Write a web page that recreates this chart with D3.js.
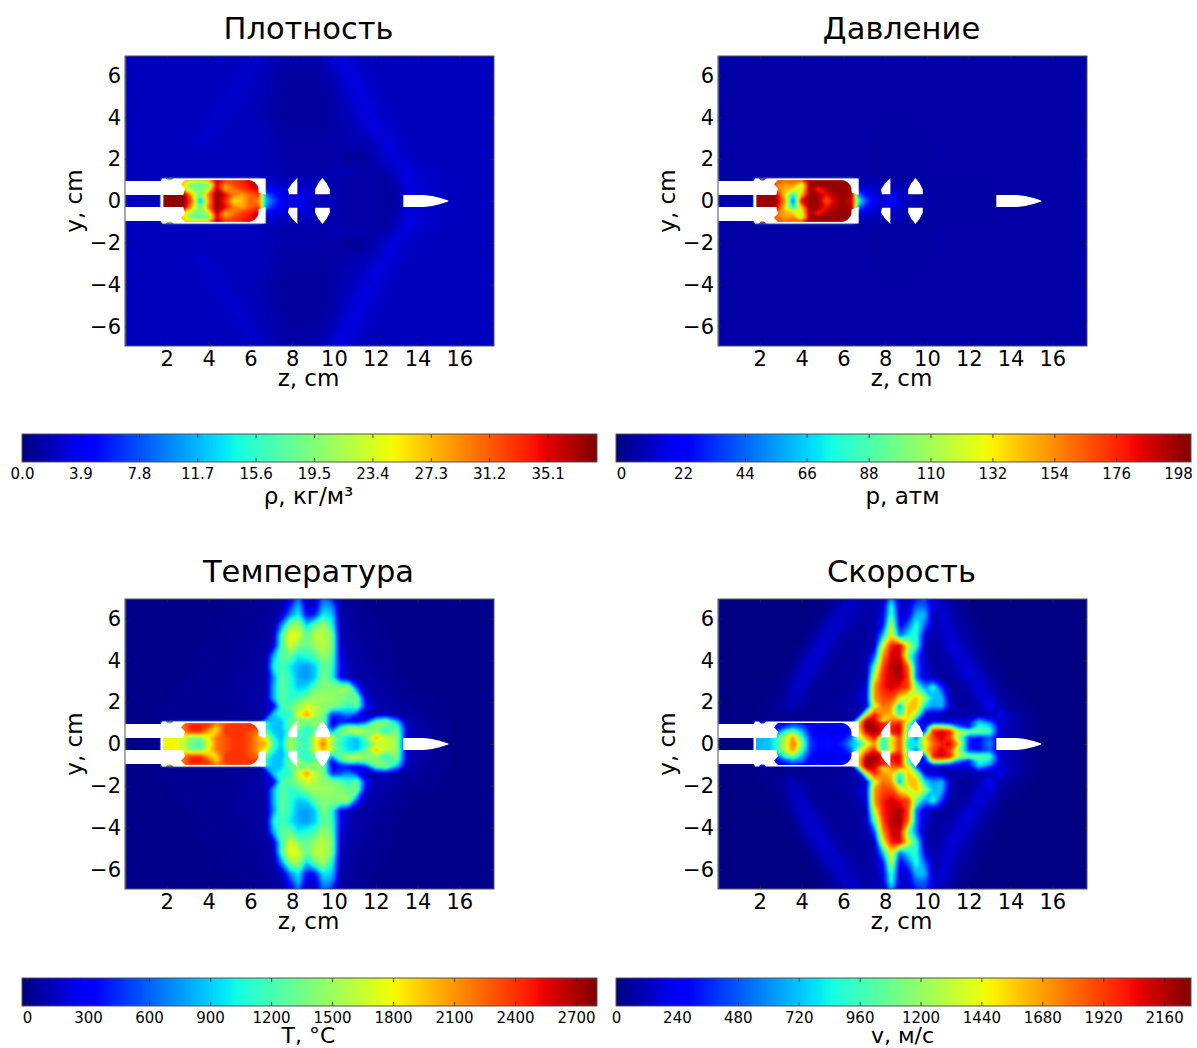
<!DOCTYPE html>
<html>
<head>
<meta charset="utf-8">
<script src="https://cdn.jsdelivr.net/npm/d3@7"></script>
<style>
  body { margin: 0; background: #fff; }
  text { font-family: "DejaVu Sans", sans-serif; fill: #000; }
  .tick line { stroke: #222; stroke-width: 0.8; }
  .spine { fill: none; stroke: #555; stroke-width: 1; }
</style>
</head>
<body>
<svg id="chart" width="1197" height="1048"></svg>
<script>
// Sample positions of the field tables, cm. Rows hold y >= 0, the field is mirrored about y = 0.
const zGrid = [0, 1, 1.7, 1.85, 2.4, 2.8, 3.2, 3.6, 4, 4.4, 4.8, 5.2, 5.6, 6, 6.4, 6.75, 7.1, 7.5, 7.9, 8.3,
  8.7, 9.1, 9.5, 9.9, 10.3, 10.7, 11.1, 11.5, 12, 12.5, 13, 13.5, 14, 15, 16, 18];
const yGrid = [0, 0.3, 0.6, 0.8, 1, 1.08, 1.4, 1.8, 2.2, 2.7, 3.2, 3.7, 4.2, 4.7, 5.2, 5.7, 6.2, 6.6, 7];

// density, kg/m3
const densityRows = [
  [2,2,2,38,38,38, 31,10,28,38,33,25,27,31,29,12, 8,4,3,4,3,2,2,1.8,1.5,1.2, 1.2,1.2,1.2,1,1.2,3,3,2.2,2,2],
  [2,2,2,38,38,38, 27,18,30,38,35,30,28,31,33,9, 6,3.5,3,3.5,3,2,2,1.8,1.5,1.2, 1.2,1.2,1.2,1,1.2,3,3,2.2,2,2],
  [2,2,2,20,30,24, 20,19,22,36,26,30,33,34,36,3, 4,3,2.6,3,2.6,2,2,1.8,1.4,1.2, 1.2,1.2,1.2,1.1,1.4,3.2,2.8,2.2,2,2],
  [2,2,2,20,30,26, 18,17,18,35,30,32,33,35,36,3, 2.6,2.2,2.2,2.4,2.4,1.8,1.8,1.6,1.4,1.2, 1.2,1.2,1.2,1.1,1.6,3.4,2.8,2.2,2,2],
  [2,2,2,20,30,27, 26,27,28,37,33,33,34,36,37,2.6, 2.2,2,2,2,2,1.6,1.6,1.6,1.4,1.2, 1.2,1.2,1.2,1.1,1.8,3.4,2.8,2.2,2,2],
  [2,2,2,2,2,2, 2,2,2,2,2,2,2,2,2,2, 2,1.8,1.8,1.8,1.8,1.6,1.6,1.6,1.4,1.2, 1.2,1.2,1.2,1.2,2,3.4,2.8,2.2,2,2],
  [2,2,2,2,2,2, 2,2,2,2,2,2,2,2,2,1.9, 1.6,1.5,1.4,1.4,1.4,1.4,1.4,1.7,2,2, 1.6,1.4,1.4,1.5,2.4,3.2,2.6,2.1,2,2],
  [2,2,2,2,2,2, 2,2,2,2,2,2,2,2,2,1.9, 1.7,1.5,1.4,1.4,1.4,1.4,1.3,1.4,1.2,1, 0.9,1,1.6,2,3.2,2.8,2.3,2,2,2],
  [2,2,2,2,2,2, 2.1,2.1,2,2,2,2,2,2,2,1.9, 1.7,1.4,1.3,1.3,1.3,1.3,1.3,1.3,1.2,1, 0.9,1,1.8,3,2.8,2.4,2.1,2,2,2],
  [2,2,2,2,2,2, 2.3,2.4,2.3,2.1,2,2,2,2,2,1.9, 1.6,1.3,1.2,1.2,1.2,1.2,1.2,1.3,1.5,1.5, 1.5,1.6,2,3.2,2.8,2.3,2,2,2,2],
  [2,2,2,2,2,2, 2.1,2.3,2.4,2.3,2.1,2,2,2,2,1.8, 1.5,1.2,1.1,1.1,1.1,1.1,1.1,1.2,1.6,1.7, 1.9,2.2,3.2,2.8,2.3,2,2,2,2,2],
  [2,2,2,2,2,2, 2,2.1,2.4,2.4,2.3,2.1,2,2,1.9,1.7, 1.4,1.1,1,1,1,1,1,1.1,1.6,1.8, 2.1,2.8,3.2,2.6,2.2,2,2,2,2,2],
  [2,2,2,2,2,2, 2,2,2.2,2.4,2.4,2.2,2,1.9,1.8,1.6, 1.3,1,1,1,1,1,1,1.1,1.7,2, 2.6,3.3,2.8,2.3,2,2,2,2,2,2],
  [2,2,2,2,2,2, 2,2,2,2.2,2.4,2.4,2.2,2,1.8,1.6, 1.3,1,1,1,1,1,1,1.2,1.8,2.2, 3,3.2,2.6,2.2,2,2,2,2,2,2],
  [2,2,2,2,2,2, 2,2,2,2.1,2.3,2.5,2.4,2.1,1.9,1.7, 1.4,1.1,1,1,1,1,1.1,1.4,2,2.6, 3.3,2.9,2.3,2,2,2,2,2,2,2],
  [2,2,2,2,2,2, 2,2,2,2,2.1,2.3,2.5,2.3,2,1.7, 1.4,1.2,1,1,1,1,1.2,1.6,2.3,3, 3.2,2.6,2.2,2,2,2,2,2,2,2],
  [2,2,2,2,2,2, 2,2,2,2,2,2.1,2.3,2.5,2.2,1.8, 1.5,1.2,1.1,1.1,1.1,1.2,1.4,1.9,2.8,3.3, 2.8,2.3,2,2,2,2,2,2,2,2],
  [2,2,2,2,2,2, 2,2,2,2,2,2,2.2,2.4,2.3,2, 1.6,1.4,1.3,1.3,1.3,1.4,1.7,2.4,3.2,3, 2.4,2.1,2,2,2,2,2,2,2,2],
  [2,2,2,2,2,2, 2,2,2,2,2,2,2,2.2,2.4,2.2, 1.8,1.6,1.5,1.5,1.6,1.8,2.2,3,3.2,2.7, 2.3,2,2,2,2,2,2,2,2,2],
];

// pressure, atm
const pressureRows = [
  [5,5,5,198,198,198, 150,35,185,198,198,160,190,198,185,80, 40,18,12,24,14,8,8,6,5,4.5, 4.5,4.5,4.5,4.5,4.5,5,5,5,5,5],
  [5,5,5,198,198,190, 135,70,140,198,195,180,195,198,195,45, 25,14,12,18,12,8,7,6,5,4.5, 4.5,4.5,4.5,4.5,4.5,5,5,5,5,5],
  [5,5,5,198,190,160, 145,140,120,198,175,198,198,198,198,10, 14,10,10,12,9,7,6,5,4.5,4.5, 4.5,4.5,4.5,4.5,4.5,5,5,5,5,5],
  [5,5,5,198,190,160, 150,155,115,198,198,198,198,198,198,8, 8,8,8,8,7,6,5,4.5,4.5,4.5, 4.5,4.5,4.5,4.5,4.5,5,5,5,5,5],
  [5,5,5,198,190,170, 165,165,170,198,198,198,198,198,198,7, 7,7,7,7,6,5,4.5,4.5,4.5,4.5, 4.5,4.5,4.5,4.5,4.6,5,5,5,5,5],
  [5,5,5,5,5,5, 5,5,5,5,5,5,5,5,5,5, 5,5,5,5,4.6,4.4,4.4,4.4,4.4,4.5, 4.5,4.5,4.6,4.7,4.8,5,5,5,5,5],
  [5,5,5,5,5,5, 5,5,5,5,5,5,5,5,5,5, 4.7,4.4,4.2,4.2,4.2,4.2,4.3,4.4,4.6,4.7, 4.8,4.9,5,5,5,5,5,5,5,5],
  [5,5,5,5,5,5, 5,5,5,5,5,5,5,5,5,5, 4.7,4.4,4.1,4.1,4.1,4.1,4.3,4.4,4.6,4.8, 5,5,5,5,5,5,5,5,5,5],
  [5,5,5,5,5,5, 5,5,5,5,5,5,5,5,5,5, 4.7,4.4,4.1,4.1,4.1,4.1,4.3,4.4,4.6,4.8, 5,5,5,5,5,5,5,5,5,5],
  [5,5,5,5,5,5, 5,5,5,5,5,5,5,5,5,5, 4.8,4.4,4.2,4.2,4.2,4.2,4.3,4.5,4.7,4.9, 5,5,5,5,5,5,5,5,5,5],
  [5,5,5,5,5,5, 5,5,5,5,5,5,5,5,5,5, 4.8,4.5,4.3,4.3,4.3,4.3,4.4,4.6,4.8,5, 5,5,5,5,5,5,5,5,5,5],
  [5,5,5,5,5,5, 5,5,5,5,5,5,5,5,5,5, 4.9,4.6,4.4,4.4,4.4,4.4,4.6,4.7,4.9,5, 5,5,5,5,5,5,5,5,5,5],
  [5,5,5,5,5,5, 5,5,5,5,5,5,5,5,5,5, 5,4.7,4.6,4.6,4.6,4.6,4.7,4.8,5,5, 5,5,5,5,5,5,5,5,5,5],
  [5,5,5,5,5,5, 5,5,5,5,5,5,5,5,5,5, 5,4.9,4.8,4.8,4.8,4.8,4.9,5,5,5, 5,5,5,5,5,5,5,5,5,5],
  [5,5,5,5,5,5, 5,5,5,5,5,5,5,5,5,5, 5,5,5,5,5,5,5,5,5,5, 5,5,5,5,5,5,5,5,5,5],
  [5,5,5,5,5,5, 5,5,5,5,5,5,5,5,5,5, 5,5,5,5,5,5,5,5,5,5, 5,5,5,5,5,5,5,5,5,5],
  [5,5,5,5,5,5, 5,5,5,5,5,5,5,5,5,5, 5,5,5,5,5,5,5,5,5,5, 5,5,5,5,5,5,5,5,5,5],
  [5,5,5,5,5,5, 5,5,5,5,5,5,5,5,5,5, 5,5,5,5,5,5,5,5,5,5, 5,5,5,5,5,5,5,5,5,5],
  [5,5,5,5,5,5, 5,5,5,5,5,5,5,5,5,5, 5,5,5,5,5,5,5,5,5,5, 5,5,5,5,5,5,5,5,5,5],
];

// temperature, hundreds of deg C
const temperatureRows = [
  [0,0,0,18,18,16, 13,11,17,22,23,24,24,23,21,20, 12,9,16,13,11,17,22,15,11,9.5, 8.5,11,16,17,15,1,1,0,0,0],
  [0,0,0,18,18,17, 14,14,18,22,23,24,24,23,20,17, 11,8,15,12,11,17,20,16,12,9.5, 9,12.5,20,16,15,1.5,1,0.2,0,0],
  [0,0,0,18,22,22, 24,24,20,19,24,24,24,23,22,12, 9,8.5,12,12,11,13,14,8,14,15, 17,15,14,11,14,1.5,0.8,0.2,0,0],
  [0,0,0,18,22,22, 25,25,23,19,24,24,24,24,24,10, 8.5,9,13,15,11,13,13,3,10,14, 13,13,15,12,13,1.5,0.8,0.2,0,0],
  [0,0,0,18,22,22, 24,24,24,22,23,24,24,24,24,11, 9,8.5,13,14,14,16,14,2,5,6, 5,7,14,14,10,1,0.7,0.2,0,0],
  [0.2,0.2,0.2,0.2,0.2,0.2, 0.2,0.2,0.2,0.2,0.2,0.2,0.3,0.3,0.3,8, 8.5,9,13,14,13,13,14,2,4,3, 3,4,12,14,8,1,0.6,0.2,0,0],
  [0,0,0.1,0.1,0.2,0.2, 0.2,0.2,0.2,0.3,0.3,0.3,0.4,0.4,0.5,1, 9,11,11,17,21,16,14,4,5,7, 4,0.8,0.9,1.5,0.7,0.5,0.4,0.2,0,0],
  [0,0,0.1,0.1,0.2,0.2, 0.2,0.2,0.3,0.3,0.3,0.4,0.4,0.5,0.8,1.5, 2,12,13,15,17,16,14,14,13,11, 13,4,1,0.8,0.5,0.4,0.3,0.1,0,0],
  [0,0,0,0,0.1,0.1, 0.2,0.2,0.3,0.3,0.4,0.4,0.5,0.6,0.7,0.8, 8,13,11,12,14,15,15,15,14,13, 14,2,0.8,0.6,0.4,0.3,0.2,0.1,0,0],
  [0,0,0,0,0.1,0.1, 0.2,0.2,0.2,0.3,0.3,0.4,0.5,0.5,0.6,0.6, 8,13,11,9,9.5,13,14,14,15,15, 5,1,0.6,0.5,0.3,0.2,0.1,0,0,0],
  [0,0,0,0,0,0.1, 0.1,0.2,0.2,0.3,0.3,0.4,0.5,0.5,0.5,0.6, 7,13,11,8,7.5,9,14,11,2.5,1, 0.7,0.6,0.5,0.3,0.2,0.1,0,0,0,0],
  [0,0,0,0,0,0, 0.1,0.1,0.2,0.2,0.3,0.3,0.4,0.5,0.5,0.6, 10,12,10,8,7.5,9,13,12,3,1, 0.7,0.6,0.4,0.3,0.1,0,0,0,0,0],
  [0,0,0,0,0,0, 0.1,0.1,0.1,0.2,0.2,0.3,0.4,0.4,0.5,0.6, 8,13,13,10,11,12,15,13,2,0.8, 0.7,0.5,0.3,0.2,0.1,0,0,0,0,0],
  [0,0,0,0,0,0, 0,0.1,0.1,0.1,0.2,0.3,0.3,0.4,0.5,0.6, 1.5,12,17,14,13,15,16,14,1.5,0.8, 0.6,0.4,0.3,0.1,0,0,0,0,0,0],
  [0,0,0,0,0,0, 0,0,0.1,0.1,0.1,0.2,0.3,0.4,0.4,0.5, 0.6,12,18,17,13,16,16,14,1,0.7, 0.5,0.3,0.2,0.1,0,0,0,0,0,0],
  [0,0,0,0,0,0, 0,0,0,0.1,0.1,0.2,0.2,0.3,0.4,0.5, 0.6,7,14,15,9,13,15,11,1,0.6, 0.4,0.3,0.2,0.1,0,0,0,0,0,0],
  [0,0,0,0,0,0, 0,0,0,0,0.1,0.1,0.2,0.3,0.3,0.4, 0.5,1,7,10,3,4,10,9,0.8,0.5, 0.4,0.2,0.1,0,0,0,0,0,0,0],
  [0,0,0,0,0,0, 0,0,0,0,0,0.1,0.1,0.2,0.3,0.3, 0.4,0.6,4,8.5,1.5,2,8,7,0.6,0.4, 0.3,0.2,0.1,0,0,0,0,0,0,0],
  [0,0,0,0,0,0, 0,0,0,0,0,0,0.1,0.1,0.2,0.3, 0.4,0.5,2.5,6,1,1.2,6,4,0.5,0.4, 0.2,0.1,0,0,0,0,0,0,0,0],
];

// velocity, hundreds of m/s
const velocityRows = [
  [0,0,0,7,7,9, 13,18,12,4,3,3,3,4,7,8, 13,17,8,15,19,8,8,14,18,20, 21,16,3,3,6,1.5,1,0.3,0,0],
  [0,0,0,7,7,9, 13,17,10,4,2.5,3,2.5,3,5,13, 17,20,8,14,19,10,5,15,19,21, 19,12,4,3,5,1.5,1,0.3,0,0],
  [0,0,0,7,5,4, 9,11,7,3,2.5,2,2,2.5,3,15, 21,22,20,20,21,10,3,4,20,21, 20,13,11,11,10,1.5,1,0.3,0,0],
  [0,0,0,7,4,3, 4,6,5,3,2,2.5,3,3,3,16, 22,22,20,20,21,10,5,2.5,15,14, 12,6,3,9,8,1.5,1,0.3,0,0],
  [0,0,0,5,3,2, 3,4,3,2,4,2.5,2.5,3,3,16, 22,21,20,19,20,12,4,2,4,4, 3,3,3,8,6,1.5,1,0.3,0,0],
  [0.1,0.1,0.1,0.1,0.1,0.2, 0.2,0.3,0.3,0.3,0.3,0.4,0.4,0.5,0.6,14, 22,21,14,18,19,15,4,1.5,2,1.5, 2,2,2,7,4,1.5,1,0.3,0,0],
  [0.1,0.1,0.1,0.2,0.3,0.3, 0.4,0.4,0.4,0.4,0.5,0.5,0.5,0.6,0.8,1, 14,20,17,16,9,16,12,2,1.5,1, 0.8,0.8,0.8,0.8,1,2.5,1,0.3,0,0],
  [0,0.1,0.1,0.2,0.3,0.4, 0.8,1.2,0.6,0.4,0.5,0.5,0.6,0.6,0.7,1, 1.5,14,18,17,6,16,16,8,6,7, 1.5,0.6,0.6,1,2.5,1,0.5,0.2,0,0],
  [0,0,0.1,0.1,0.2,0.3, 0.6,1.3,1,0.5,0.5,0.5,0.5,0.6,0.7,1.5, 2,17,19,19,15,13,16,12,7,7, 1,0.6,0.6,1.5,2,0.7,0.4,0.1,0,0],
  [0,0,0,0.1,0.1,0.2, 0.4,1.2,1.6,0.8,0.5,0.5,0.5,0.5,0.6,1, 1.5,17,20,21,20,19,11,6,9,4, 0.5,0.5,1,2,1.2,0.5,0.2,0.1,0,0],
  [0,0,0,0,0.1,0.1, 0.2,0.8,1.6,1.4,0.7,0.5,0.5,0.5,0.6,0.7, 0.8,14,20,21,22,19,5,1.8,0.8,0.6, 0.6,1,1.8,1.4,0.8,0.3,0.1,0,0,0],
  [0,0,0,0,0,0.1, 0.1,0.4,1.2,1.6,1.2,0.6,0.5,0.5,0.6,0.6, 0.7,10,19,21.5,22,18,5,1.5,0.7,0.6, 0.8,1.5,1.8,0.9,0.4,0.2,0.1,0,0,0],
  [0,0,0,0,0,0, 0.1,0.2,0.6,1.4,1.6,1,0.6,0.5,0.6,0.6, 0.7,5,17,21,21,11,5,1,0.7,0.7, 1.2,1.8,1.2,0.6,0.3,0.1,0,0,0,0],
  [0,0,0,0,0,0, 0,0.1,0.3,0.8,1.6,1.5,0.9,0.6,0.6,0.6, 0.7,1,14,20,21,14,9,1,0.7,0.9, 1.7,1.6,0.8,0.4,0.2,0.1,0,0,0,0],
  [0,0,0,0,0,0, 0,0,0.1,0.4,1,1.6,1.4,0.8,0.6,0.6, 0.7,0.9,7,15,5,8,9,2,0.8,1.2, 1.8,1,0.6,0.3,0.1,0,0,0,0,0],
  [0,0,0,0,0,0, 0,0,0,0.2,0.5,1.1,1.6,1.3,0.8,0.6, 0.7,0.9,3,13,2,5,9,5,0.9,1.5, 1.6,0.8,0.4,0.2,0.1,0,0,0,0,0],
  [0,0,0,0,0,0, 0,0,0,0.1,0.2,0.6,1.2,1.6,1.1,0.8, 0.7,0.9,2,10,1.5,2,7,7,1,1.7, 1.2,0.6,0.3,0.1,0,0,0,0,0,0],
  [0,0,0,0,0,0, 0,0,0,0,0.1,0.3,0.7,1.3,1.5,1, 0.8,0.9,1.5,9,1.5,1.5,5,5,1.6,1.5, 0.8,0.4,0.2,0,0,0,0,0,0,0],
  [0,0,0,0,0,0, 0,0,0,0,0.1,0.2,0.4,0.9,1.4,1.3, 0.9,0.9,1,6,1.2,1.2,3,4,1.6,1, 0.6,0.3,0.1,0,0,0,0,0,0,0],
];

// Solid parts (z, y in cm), upper half only except where noted.
const barrelWall = [[0, 0.96], [1.7, 0.96], [1.78, 1.08], [1.95, 1.08], [2.05, 0.98], [2.2, 0.98], [2.32, 1.08],
  [6.73, 1.08], [6.73, 0.3], [6.4, 0.4], [6.38, 0.65], [6.33, 0.75], [6.2, 0.9], [6.05, 0.98], [5.95, 1],
  [2.87, 1], [2.68, 0.8], [2.87, 0.6], [2.79, 0.29], [0, 0.29]];
const breechPlug = [[1.7, 0.29], [1.83, 0.29], [1.83, -0.29], [1.7, -0.29]];
const firstLens = [[8.25, 1.1], [8, 0.85], [7.8, 0.55], [7.85, 0.32], [8.25, 0.32]];
const secondLens = [[9.45, 1.1], [9.25, 0.85], [9.1, 0.55], [9.1, 0.32], [9.8, 0.32], [9.8, 0.55], [9.65, 0.85]];
const bulletTop = [[13.32, 0.29], [14.3, 0.29], [14.7, 0.24], [15.1, 0.14], [15.47, 0.02]];

const titles = ['Плотность', 'Давление', 'Температура', 'Скорость'];
const barLabels = ['ρ, кг/м³', 'p, атм', 'T, °C', 'v, м/с'];
const densityTicks = [0, 3.9, 7.8, 11.7, 15.6, 19.5, 23.4, 27.3, 31.2, 35.1];
const pressureTicks = [0, 22, 44, 66, 88, 110, 132, 154, 176, 198];
const temperatureTicks = [0, 300, 600, 900, 1200, 1500, 1800, 2100, 2400, 2700];
const velocityTicks = [0, 240, 480, 720, 960, 1200, 1440, 1680, 1920, 2160];
const zTicks = [2, 4, 6, 8, 10, 12, 14, 16];
const yTicks = [-6, -4, -2, 0, 2, 4, 6];

const PLOT_WIDTH = 369;
const PLOT_HEIGHT = 290;
const BAR_WIDTH = 575;
const BAR_HEIGHT = 28;
const LEVELS = 256;

const panels = [
  {left: 125, top: 56, barLeft: 22, barTop: 434, labelDrop: 70, labelSize: 23, rows: densityRows, unit: 1, domain: [0, 38.4], ticks: densityTicks, format: d3.format('.1f')},
  {left: 718, top: 56, barLeft: 616, barTop: 434, labelDrop: 70, labelSize: 23, rows: pressureRows, unit: 1, domain: [-1.8, 202.6], ticks: pressureTicks, format: String},
  {left: 125, top: 599, barLeft: 22, barTop: 978, labelDrop: 64.8, labelSize: 22, rows: temperatureRows, unit: 100, domain: [-25, 2803], ticks: temperatureTicks, format: String},
  {left: 718, top: 599, barLeft: 616, barTop: 978, labelDrop: 64.8, labelSize: 22, rows: velocityRows, unit: 100, domain: [0, 2266], ticks: velocityTicks, format: String},
];

// matplotlib jet, channel by channel
const jetRed = d3.scaleLinear().domain([0, 0.35, 0.66, 0.89, 1]).range([0, 0, 255, 255, 128]).clamp(true);
const jetGreen = d3.scaleLinear().domain([0, 0.125, 0.375, 0.64, 0.91, 1]).range([0, 0, 255, 255, 0, 0]).clamp(true);
const jetBlue = d3.scaleLinear().domain([0, 0.11, 0.34, 0.65, 1]).range([128, 255, 255, 0, 0]).clamp(true);

/**
 * Maps a 0..1 fraction to a jet colour.
 * @param {number} t
 * @return {string}
 */
function jet(t) {
  return d3.rgb(jetRed(t), jetGreen(t), jetBlue(t)).formatHex();
}

const xScale = d3.scaleLinear().domain([0, 17.66]).range([0, PLOT_WIDTH]);
const yScale = d3.scaleLinear().domain([-6.94, 6.94]).range([PLOT_HEIGHT, 0]);
const svg = d3.select('#chart');

// soft edge like the resampled source image
svg.append('defs').append('filter').attr('id', 'soften')
    .attr('x', '-5%').attr('y', '-5%').attr('width', '110%').attr('height', '110%')
    .attr('color-interpolation-filters', 'sRGB')
    .append('feGaussianBlur').attr('stdDeviation', 1);

// Contour grids are uniform, these scales carry grid indices back to cm.
const fullY = [...yGrid.slice(1).reverse(), ...yGrid.map(y => -y)];
const zOfColumn = d3.scaleLinear().domain(zGrid.map((_, i) => i)).range(zGrid).clamp(true);
const yOfRow = d3.scaleLinear().domain(fullY.map((_, i) => i)).range(fullY).clamp(true);
const gridProjection = d3.geoTransform({
  point(col, row) {
    this.stream.point(xScale(zOfColumn(col - 0.5)), yScale(yOfRow(row - 0.5)));
  },
});
const gridPath = d3.geoPath(gridProjection);

/**
 * Flattens a half table into the mirrored value list d3.contours wants.
 * @param {!Array<!Array<number>>} rows
 * @param {number} unit
 * @return {!Array<number>}
 */
function mirroredValues(rows, unit) {
  rows.forEach((row, i) => {
    if (row.length !== zGrid.length) throw new Error(`row ${i} has ${row.length} values`);
  });
  return [...rows.slice(1).reverse(), ...rows].flat().map(v => v * unit);
}

/**
 * Draws one field with its solids, axes and labels.
 * @param {!Object} panel
 * @param {number} index
 */
function drawPanel(panel, index) {
  const g = svg.append('g').attr('transform', `translate(${panel.left},${panel.top})`);
  const clipId = `clip-${index}`;
  g.append('clipPath').attr('id', clipId).append('rect')
      .attr('width', PLOT_WIDTH).attr('height', PLOT_HEIGHT);

  const [low, high] = panel.domain;
  const fraction = d3.scaleLinear().domain([low, high]).range([0, 1]);
  const step = (high - low) / LEVELS;
  const contours = d3.contours()
      .size([zGrid.length, fullY.length])
      .thresholds(d3.range(LEVELS).map(i => low + i * step))(mirroredValues(panel.rows, panel.unit));

  const clipped = g.append('g').attr('clip-path', `url(#${clipId})`);
  const field = clipped.append('g').attr('filter', 'url(#soften)');
  field.selectAll('path.level').data(contours).join('path')
      .attr('class', 'level')
      .attr('d', gridPath)
      .attr('fill', d => jet(fraction(d.value + step / 2)));

  // walls, lenses and the bullet stay white
  const outline = d3.line().x(d => xScale(d[0])).y(d => yScale(d[1]));
  const mirror = points => points.map(([z, y]) => [z, -y]);
  const bullet = [...bulletTop, ...mirror(bulletTop).reverse()];
  const solids = [barrelWall, mirror(barrelWall), breechPlug, firstLens, mirror(firstLens),
    secondLens, mirror(secondLens), bullet];
  clipped.selectAll('path.solid').data(solids).join('path')
      .attr('class', 'solid')
      .attr('d', d => outline(d) + 'Z')
      .attr('fill', '#fff');

  g.append('g').attr('transform', `translate(0,${PLOT_HEIGHT})`)
      .call(d3.axisBottom(xScale).tickValues(zTicks).tickSize(-4).tickPadding(5))
      .call(styleAxis, 21);
  g.append('g')
      .call(d3.axisTop(xScale).tickValues(zTicks).tickSize(-4).tickFormat(''))
      .call(styleAxis, 21);
  g.append('g')
      .call(d3.axisLeft(yScale).tickValues(yTicks).tickSize(-4).tickPadding(4))
      .call(styleAxis, 21);
  g.append('g').attr('transform', `translate(${PLOT_WIDTH},0)`)
      .call(d3.axisRight(yScale).tickValues(yTicks).tickSize(-4).tickFormat(''))
      .call(styleAxis, 21);
  g.append('rect').attr('class', 'spine').attr('width', PLOT_WIDTH).attr('height', PLOT_HEIGHT);

  g.append('text').attr('x', PLOT_WIDTH / 2 - 1).attr('y', -17)
      .attr('text-anchor', 'middle').attr('font-size', 30.5).text(titles[index]);
  g.append('text').attr('x', PLOT_WIDTH / 2 - 1).attr('y', 330)
      .attr('text-anchor', 'middle').attr('font-size', 23).text('z, cm');
  g.append('text').attr('transform', `translate(-43,${PLOT_HEIGHT / 2}) rotate(-90)`)
      .attr('text-anchor', 'middle').attr('font-size', 23).text('y, cm');

  drawColorbar(panel, index);
}

/**
 * Draws the horizontal colour bar of a panel.
 * @param {!Object} panel
 * @param {number} index
 */
function drawColorbar(panel, index) {
  const g = svg.append('g').attr('transform', `translate(${panel.barLeft},${panel.barTop})`);
  const barScale = d3.scaleLinear().domain(panel.domain).range([0, BAR_WIDTH]);
  g.selectAll('rect.cell').data(d3.range(BAR_WIDTH)).join('rect')
      .attr('class', 'cell')
      .attr('x', d => d)
      .attr('width', 1)
      .attr('height', BAR_HEIGHT)
      .attr('fill', d => jet(d / (BAR_WIDTH - 1)));

  g.append('g').attr('transform', `translate(0,${BAR_HEIGHT})`)
      .call(d3.axisBottom(barScale).tickValues(panel.ticks).tickFormat(panel.format).tickSize(-4).tickPadding(6))
      .call(styleAxis, 15);
  g.append('g')
      .call(d3.axisTop(barScale).tickValues(panel.ticks).tickSize(-4).tickFormat(''))
      .call(styleAxis, 15);
  g.append('rect').attr('class', 'spine').attr('width', BAR_WIDTH).attr('height', BAR_HEIGHT);
  g.append('text').attr('x', BAR_WIDTH / 2 - 1).attr('y', panel.labelDrop)
      .attr('text-anchor', 'middle').attr('font-size', panel.labelSize).text(barLabels[index]);
}

/**
 * Drops the axis line and sets label font.
 * @param {!Selection} axis
 * @param {number} fontSize
 */
function styleAxis(axis, fontSize) {
  axis.select('.domain').remove();
  axis.attr('font-family', null).attr('font-size', fontSize);
  axis.selectAll('.tick text').attr('fill', '#000');
}

panels.forEach(drawPanel);
</script>
</body>
</html>
